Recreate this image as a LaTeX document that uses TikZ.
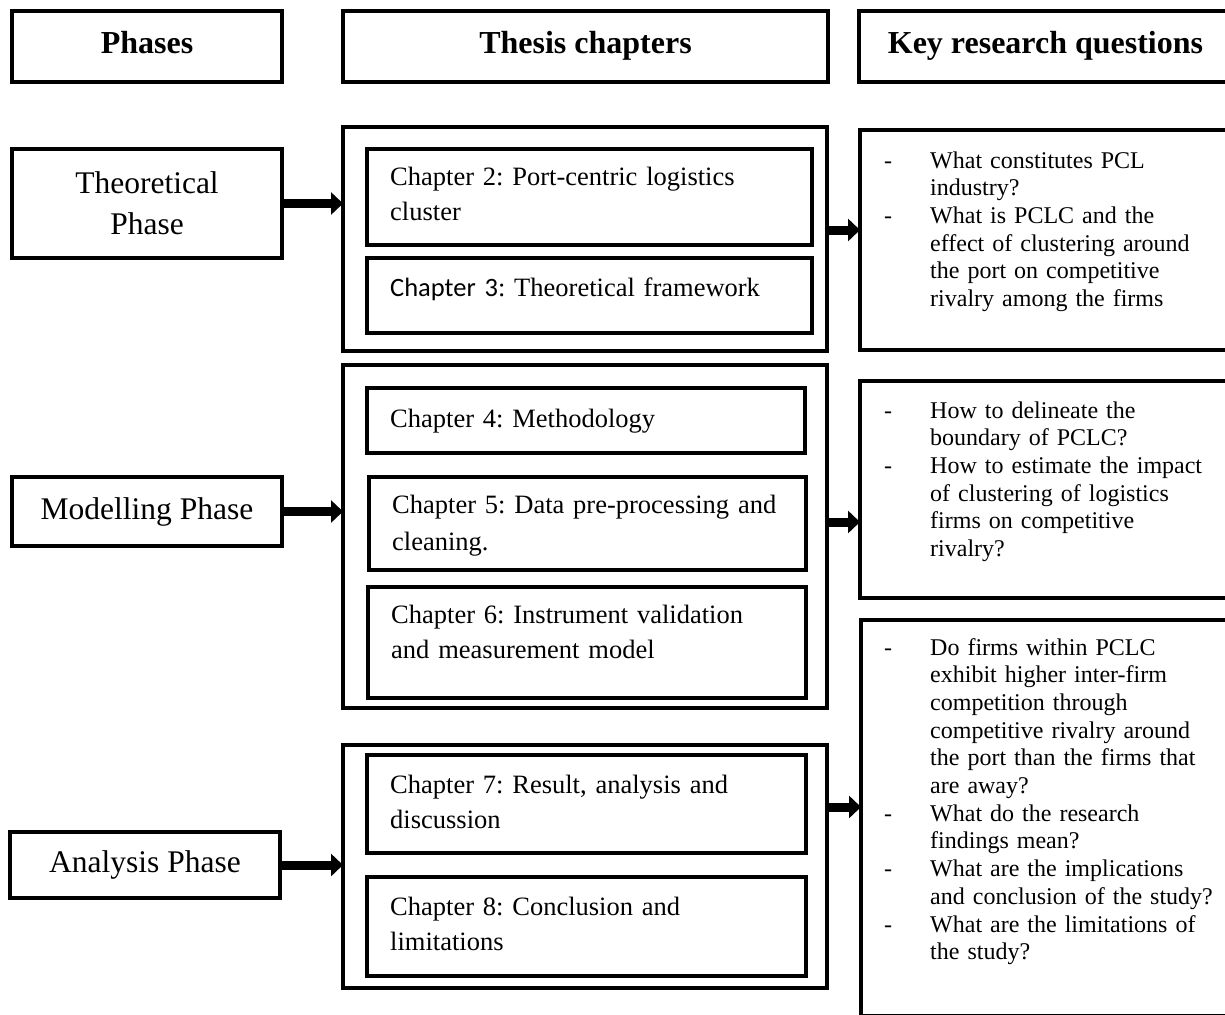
\documentclass[tikz,border=0pt]{standalone}
\usepackage{fontspec}
\setmainfont{Liberation Serif}
\newfontfamily\calibrifont{Carlito}
\usetikzlibrary{arrows.meta}
\frenchspacing
% list markers in the question boxes
\newcommand\qdash{\makebox[46pt][l]{-}}
\newcommand\qgap{\hspace*{46pt}}
\begin{document}
\begin{tikzpicture}[x=1pt,y=-1pt,
  frame/.style={draw, line width=4.5pt, inner sep=0pt, outer sep=0pt, anchor=north west},
  header/.style={frame, font=\fontsize{32}{38}\selectfont\bfseries, text height=22pt, text depth=7pt, minimum height=71pt},
  phase/.style={frame, align=center, font=\fontsize{31.5}{41}\selectfont, minimum width=270pt},
  chaptertext/.style={anchor=base west, inner sep=0pt, text width=425pt, align=left, font=\fontsize{26.5}{35}\selectfont\frenchspacing},
  qtext/.style={anchor=base west, inner sep=0pt, text width=340pt, align=left, font=\fontsize{24}{27.7}\selectfont\frenchspacing},
  flow/.style={line width=9pt, -{Triangle[length=12pt,width=22pt]}}
]
\useasboundingbox (0,0) rectangle (1225,1014);
\clip (0,0) rectangle (1225,1014);

% column headers
\node[header, minimum width=270pt] (hphase) at (12,11) {Phases};
\node[header, minimum width=485pt] (hchap) at (343,11) {Thesis chapters};
\node[header, minimum width=373pt] (hques) at (859,11) {Key research questions};

% phases
\node[phase, minimum height=109pt] (theo) at (12,149) {Theoretical\\Phase};
\node[phase, minimum height=69pt] (model) at (12,477) {Modelling Phase};
\node[phase, minimum height=66pt] (anal) at (10,832) {Analysis Phase};

% chapter groups
\node[frame, minimum width=484pt, minimum height=224pt] (grp1) at (343,127) {};
\node[frame, minimum width=484pt, minimum height=343pt] (grp2) at (343,365) {};
\node[frame, minimum width=484pt, minimum height=243pt] (grp3) at (343,745) {};

% chapters
\node[frame, minimum width=445pt, minimum height=96pt] (c2) at (367,149) {};
\node[frame, minimum width=445pt, minimum height=75pt] (c3) at (367,258) {};
\node[frame, minimum width=438pt, minimum height=65pt] (c4) at (367,388) {};
\node[frame, minimum width=437pt, minimum height=93pt] (c5) at (369,477) {};
\node[frame, minimum width=438pt, minimum height=111pt] (c6) at (368,587) {};
\node[frame, minimum width=439pt, minimum height=98pt] (c7) at (367,755) {};
\node[frame, minimum width=439pt, minimum height=99pt] (c8) at (367,877) {};

\node[chaptertext] (c2t) at ([xshift=23pt,yshift=-36pt]c2.north west) {Chapter 2: Port-centric logistics\\cluster};
\node[chaptertext] (c3t) at ([xshift=23pt,yshift=-38pt]c3.north west) {{\calibrifont Chapter 3}: Theoretical framework};
\node[chaptertext] (c4t) at ([xshift=23pt,yshift=-39pt]c4.north west) {Chapter 4: Methodology};
\node[chaptertext, font=\fontsize{26.5}{37}\selectfont\frenchspacing] (c5t) at ([xshift=23pt,yshift=-36pt]c5.north west) {Chapter 5: Data pre-processing and\\cleaning.};
\node[chaptertext] (c6t) at ([xshift=23pt,yshift=-36pt]c6.north west) {Chapter 6: Instrument validation\\and measurement model};
\node[chaptertext] (c7t) at ([xshift=23pt,yshift=-38pt]c7.north west) {Chapter 7: Result, analysis and\\discussion};
\node[chaptertext] (c8t) at ([xshift=23pt,yshift=-38pt]c8.north west) {Chapter 8: Conclusion and\\limitations};

% research questions
\node[frame, minimum width=372pt, minimum height=220pt] (q1) at (860,130) {};
\node[frame, minimum width=372pt, minimum height=217pt] (q2) at (860,381) {};
\node[frame, minimum width=371pt, minimum height=396pt] (q3) at (861,620) {};

\node[qtext] (q1t) at (884,168) {\qdash What constitutes PCL\\
\qgap industry?\\
\qdash What is PCLC and the\\
\qgap effect of clustering around\\
\qgap the port on competitive\\
\qgap rivalry among the firms};
\node[qtext] (q2t) at (884,418) {\qdash How to delineate the\\
\qgap boundary of PCLC?\\
\qdash How to estimate the impact\\
\qgap of clustering of logistics\\
\qgap firms on competitive\\
\qgap rivalry?};
\node[qtext] (q3t) at (884,655) {\qdash Do firms within PCLC\\
\qgap exhibit higher inter-firm\\
\qgap competition through\\
\qgap competitive rivalry around\\
\qgap the port than the firms that\\
\qgap are away?\\
\qdash What do the research\\
\qgap findings mean?\\
\qdash What are the implications\\
\qgap and conclusion of the study?\\
\qdash What are the limitations of\\
\qgap the study?};

% flow arrows
\draw[flow] (theo.east) -- (theo.east -| grp1.west);
\draw[flow] (model.east) -- (model.east -| grp2.west);
\draw[flow] (anal.east) -- (anal.east -| grp3.west);

\coordinate (r1) at (0,230);
\coordinate (r2) at (0,522);
\coordinate (r3) at (0,807);
\draw[flow] (grp1.east |- r1) -- (q1.west |- r1);
\draw[flow] (grp2.east |- r2) -- (q2.west |- r2);
\draw[flow] (grp3.east |- r3) -- (q3.west |- r3);
\end{tikzpicture}
\end{document}
